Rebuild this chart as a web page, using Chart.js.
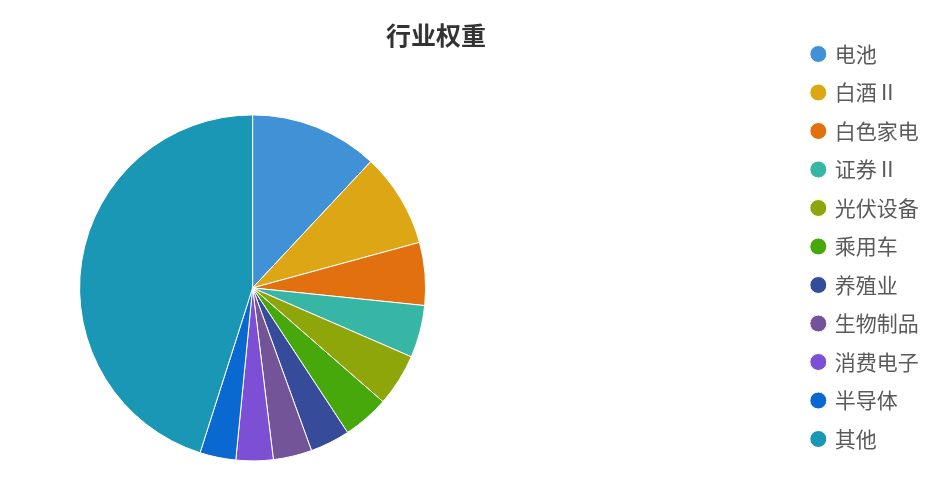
<!DOCTYPE html>
<html>
<head>
<meta charset="utf-8">
<script src="https://cdn.jsdelivr.net/npm/chart.js@4.4.1/dist/chart.umd.min.js"></script>
<style>
  html, body { margin: 0; padding: 0; background: #ffffff; }
  #wrap { position: relative; width: 941px; height: 497px; }
</style>
</head>
<body>
<div id="wrap"><canvas id="c"></canvas></div>
<script>
// ---- data ----
const chartTitle = '行业权重';
const categories = ['电池', '白酒Ⅱ', '白色家电', '证券Ⅱ', '光伏设备', '乘用车', '养殖业', '生物制品', '消费电子', '半导体', '其他'];
const weights = [11.97, 8.79, 5.87, 4.89, 4.90, 4.33, 3.72, 3.61, 3.47, 3.36, 45.09];
const sliceColors = ['#4191d6', '#dda615', '#e3700f', '#37b5a5', '#8fa60a', '#47a80c', '#374b9b', '#735498', '#7c4fd5', '#0a69d0', '#1a97b4'];

// ---- layout helpers: empty boxes that reserve room in Chart.js' layout ----
function makeSpacer(position, size) {
  return {
    position: position, weight: 0, fullSize: false,
    options: { display: true, stackWeight: 1 },
    left: 0, top: 0, right: 0, bottom: 0, width: 0, height: 0,
    isHorizontal() { return this.position === 'top' || this.position === 'bottom'; },
    update(maxWidth, maxHeight) {
      if (this.isHorizontal()) { this.width = maxWidth; this.height = size; }
      else { this.width = size; this.height = maxHeight; }
    },
    draw() {}
  };
}
function addBox(chart, box) {
  if (Chart.layouts && Chart.layouts.addBox) { Chart.layouts.addBox(chart, box); return; }
  box._layers = () => [{ z: 0, draw() {} }];
  chart.boxes.push(box);
}
const spacerPlugin = {
  id: 'spacers',
  beforeInit(chart) {
    addBox(chart, makeSpacer('right', 289.6));
    addBox(chart, makeSpacer('bottom', 35.6));
  }
};

const cjk = "'Noto Sans CJK SC', 'Noto Sans', sans-serif";

new Chart(document.getElementById('c'), {
  type: 'pie',
  data: {
    labels: categories,
    datasets: [{
      data: weights,
      backgroundColor: sliceColors,
      borderColor: '#ffffff',
      borderWidth: 1,
      hoverOffset: 0
    }]
  },
  options: {
    responsive: true,
    maintainAspectRatio: false,
    animation: false,
    layout: { padding: { top: 26, left: -56.8, right: 12.2, bottom: 0 } },
    plugins: {
      title: {
        display: true,
        text: chartTitle,
        color: '#333333',
        font: { family: cjk, size: 25, weight: 'bold', lineHeight: 0.72 },
        padding: { top: 0, bottom: 70.4 }
      },
      legend: {
        position: 'right',
        align: 'start',
        labels: {
          usePointStyle: true,
          pointStyle: 'circle',
          boxWidth: 12,
          boxHeight: 12,
          padding: 17.5,
          color: '#5a5a5a',
          font: { family: cjk, size: 21 }
        }
      },
      tooltip: { enabled: true }
    }
  },
  plugins: [spacerPlugin]
});
</script>
</body>
</html>
